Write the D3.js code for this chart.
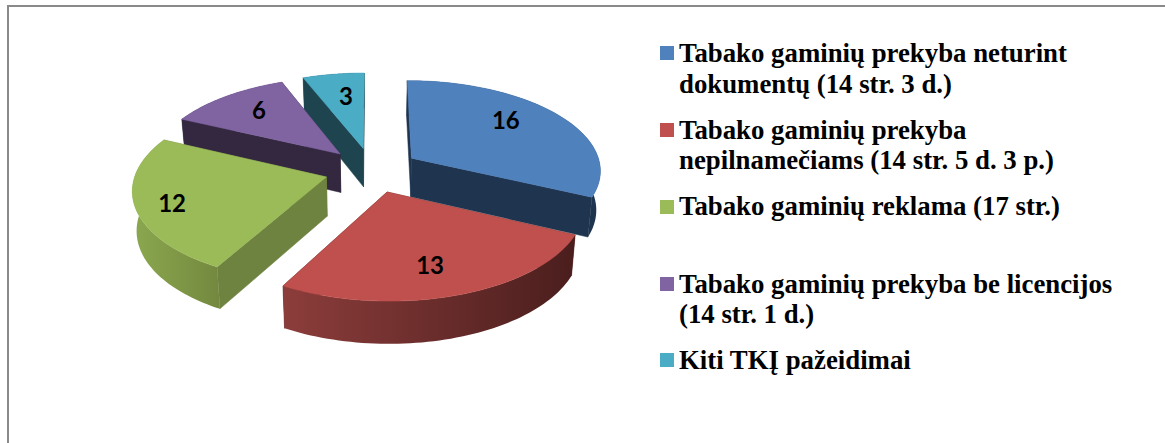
<!DOCTYPE html>
<html><head><meta charset="utf-8">
<script src="https://cdn.jsdelivr.net/npm/d3@7/dist/d3.min.js"></script>
<style>html,body{margin:0;padding:0;background:#fff;overflow:hidden}svg{display:block}</style>
</head><body><svg id="c" width="1165" height="443"></svg>
<script>
const values = [16, 13, 12, 6, 3];
const legendLines = [
  ["Tabako gaminių prekyba neturint", "dokumentų (14 str. 3 d.)"],
  ["Tabako gaminių prekyba", "nepilnamečiams (14 str. 5 d. 3 p.)"],
  ["Tabako gaminių reklama (17 str.)"],
  ["Tabako gaminių prekyba be licencijos", "(14 str. 1 d.)"],
  ["Kiti TKĮ pažeidimai"]
];
const topColors = ["#4F81BD", "#C0504D", "#9BBB59", "#8064A2", "#4BACC6"];
const edgeColors = ["#1F344F", "#4F201F", "#6E833F", "#33283F", "#1E454F"];
const wallLeft = ["#1F344F", "#8C3D3B", "#8BA84F", "#33283F", "#1E454F"];
const wallRight = ["#1F344F", "#4A1E1D", "#74893F", "#33283F", "#1E454F"];
const labelPolar = [[.716,49.6],[.724,164.5],[.816,250.4],[.725,318.9],[.68,351.1]];
const legendSwatchY = [46,123,200,277,353];
const legendBaselines = [[62,93],[139,169],[215],[293,323],[369]];

const svg = d3.select("#c");
svg.append("path").attr("d","M1165 6H8V443").attr("fill","none").attr("stroke","#8a8a8a").attr("stroke-width",2);

const cx=372, cy=170, R=190, T=89.8, p=.123, explode=.25, depth=39;
const project=(u,v)=>{const w=1/(1-p*v);return [cx+R*u*w, cy+T*v*w];};
const lower=(pt,v)=>[cx+(pt[0]-cx)*.982, pt[1]+depth+3*v];
const arcs=d3.pie().sort(null).value(d=>d)(values);
const line=d3.line();
const defs=svg.append("defs");
const drawOrder=[4,3,0,2,1];
drawOrder.forEach(i=>{
  const a=arcs[i], mid=(a.startAngle+a.endAngle)/2;
  const ou=explode*Math.sin(mid), ov=-explode*Math.cos(mid);
  const plane=(r,t)=>[ou+r*Math.sin(t), ov-r*Math.cos(t)];
  const apexP=plane(0,0);
  const steps=d3.range(0,61).map(k=>a.startAngle+(a.endAngle-a.startAngle)*k/60);
  const rimP=steps.map(t=>plane(1,t));
  const top3=q=>project(q[0],q[1]);
  const low3=q=>lower(top3(q),q[1]);
  const g=svg.append("g");
  const quad=(q1,q2,fill)=>g.append("path").attr("d",line([top3(q1),top3(q2),low3(q2),low3(q1)])+"Z").attr("fill",fill).attr("stroke",fill).attr("stroke-width",.5);
  quad(apexP,rimP[0],edgeColors[i]);
  quad(apexP,rimP[60],edgeColors[i]);
  const pts=rimP.map(top3), ptsLow=rimP.map(low3);
  const xs=d3.extent(pts,d=>d[0]);
  const id="wall"+i;
  const grad=defs.append("linearGradient").attr("id",id).attr("gradientUnits","userSpaceOnUse")
    .attr("x1",xs[0]).attr("x2",xs[1]).attr("y1",0).attr("y2",0);
  grad.append("stop").attr("offset",0).attr("stop-color",wallLeft[i]);
  grad.append("stop").attr("offset",1).attr("stop-color",wallRight[i]);
  g.append("path").attr("d",line(pts.concat(ptsLow.slice().reverse()))+"Z").attr("fill",`url(#${id})`);
  g.append("path").attr("d",line([top3(apexP)].concat(pts))+"Z").attr("fill",topColors[i]).attr("stroke",topColors[i]).attr("stroke-width",.5);
});
arcs.forEach((a,i)=>{
  const mid=(a.startAngle+a.endAngle)/2;
  const [r,deg]=labelPolar[i], t=deg*Math.PI/180;
  const q=project(explode*Math.sin(mid)+r*Math.sin(t), -explode*Math.cos(mid)-r*Math.cos(t));
  svg.append("text").attr("x",q[0]).attr("y",q[1]).attr("text-anchor","middle").attr("dominant-baseline","central")
    .attr("font-family","Lato, sans-serif").attr("font-weight",700).attr("font-size",24).attr("fill","#000").text(values[i]);
});
legendLines.forEach((lines,i)=>{
  svg.append("rect").attr("x",660).attr("y",legendSwatchY[i]).attr("width",14).attr("height",14).attr("fill",topColors[i]);
  lines.forEach((s,j)=>svg.append("text").attr("x",679).attr("y",legendBaselines[i][j])
    .attr("font-family","'Liberation Serif', serif").attr("font-weight",700).attr("font-size",26.8).attr("fill","#000").text(s));
});
</script></body></html>
